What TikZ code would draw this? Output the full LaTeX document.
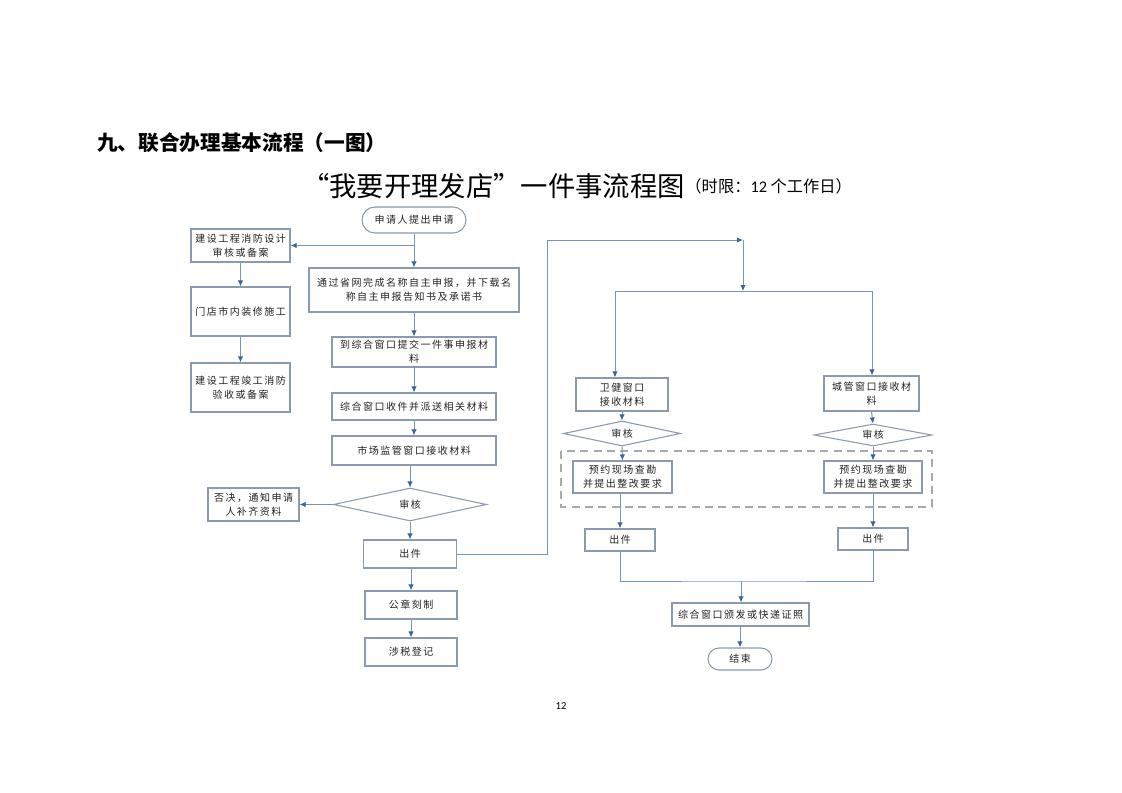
\documentclass[tikz,border=0pt]{standalone}
\usepackage{fontspec}
\setmainfont{Noto Sans CJK SC}
\newfontfamily\boxfont[LetterSpace=15]{Noto Sans CJK SC}
\newfontfamily\numfont{Carlito}
\usepackage{tikz}
\usetikzlibrary{shapes.geometric}
\usetikzlibrary{arrows.meta}

\definecolor{boxc}{RGB}{140,155,172}
\definecolor{linec}{RGB}{120,150,185}
\definecolor{tipc}{RGB}{60,100,150}
\definecolor{txtc}{RGB}{35,35,35}
\definecolor{dashc}{RGB}{165,170,175}

\begin{document}
\begin{tikzpicture}[x=0.75pt, y=-0.75pt,
        wh/.style 2 args={minimum width=#1*0.75pt, minimum height=#2*0.75pt},
        box/.style={rectangle, draw=boxc, line width=0.8pt, fill=white, inner sep=0pt, align=center, text=txtc, font=\boxfont\fontsize{7.5pt}{10.5pt}\selectfont},
        term/.style={box, rounded corners=#1},
        check/.style={box, diamond, shape aspect=3},
        line/.style={draw=linec, line width=0.75pt},
        arr/.style={line, -{Latex[length=4.5pt, width=4pt, color=tipc]}}]
        \useasboundingbox (0, 0) rectangle (1122, 793);

        % titles
        \node[anchor=west, inner sep=0pt, font=\bfseries\fontsize{15.5pt}{18pt}\selectfont] (title) at (97, 143) {九、联合办理基本流程（一图）};
        \node[anchor=west, inner sep=0pt, font=\fontsize{20.5pt}{23pt}\selectfont] (subtitle) at (302, 186) {“我要开理发店”一件事流程图};
        \node[anchor=west, inner sep=0pt, font=\fontsize{12.2pt}{14pt}\selectfont] (limit) at (subtitle.east) {（时限：{\numfont 12} 个工作日）};

        % main column
        \node[term=9.75pt, wh={104}{26}] (start) at (414, 220) {申请人提出申请};
        \node[box, wh={210}{44}] (apply) at (414, 290) {通过省网完成名称自主申报，并下载名\\称自主申报告知书及承诺书};
        \node[box, wh={164}{30}] (submit) at (414, 352) {到综合窗口提交一件事申报材\\料};
        \node[box, wh={164}{27}] (dispatch) at (414, 406.5) {综合窗口收件并派送相关材料};
        \node[box, wh={164}{29}] (market) at (414, 450.5) {市场监管窗口接收材料};
        \node[check, wh={153}{33}] (review) at (410, 504.5) {审核};
        \node[box, wh={93}{28}] (issue) at (410, 554) {出件};
        \node[box, wh={92}{28}] (seal) at (411, 605) {公章刻制};
        \node[box, wh={92}{28}] (tax) at (411, 652) {涉税登记};

        % fire column
        \node[box, wh={99}{33}] (fire1) at (240.5, 245.5) {建设工程消防设计\\审核或备案};
        \node[box, wh={99}{49}] (fire2) at (240.5, 311.5) {门店市内装修施工};
        \node[box, wh={99}{49}] (fire3) at (240.5, 387.5) {建设工程竣工消防\\验收或备案};
        \node[box, wh={91}{33}] (reject) at (253.5, 504.5) {否决，通知申请\\人补齐资料};

        % right columns
        \draw[dashc, line width=1.1pt, dash pattern=on 6pt off 4pt] (561, 451) rectangle (932, 507);
        \node[box, wh={92}{33}] (health) at (622, 394.5) {卫健窗口\\接收材料};
        \node[box, wh={95}{35}] (city) at (871.5, 393.5) {城管窗口接收材\\料};
        \node[check, wh={117}{25}] (reviewL) at (622, 433.5) {审核};
        \node[check, wh={118}{22}] (reviewR) at (873, 435) {审核};
        \node[box, wh={99}{32}] (surveyL) at (622.5, 477) {预约现场查勘\\并提出整改要求};
        \node[box, wh={98}{32}] (surveyR) at (873, 477) {预约现场查勘\\并提出整改要求};
        \node[box, wh={70}{22}] (issueL) at (620, 540) {出件};
        \node[box, wh={70}{22}] (issueR) at (873, 539) {出件};
        \node[box, wh={137}{23}] (certif) at (740.5, 614.5) {综合窗口颁发或快递证照};
        \node[term=8.25pt, wh={64}{22}] (finish) at (740, 659) {结束};

        \node[font=\numfont\fontsize{8pt}{10pt}\selectfont] (page) at (561, 706) {12};

        \coordinate (up) at (547, 240);
        \coordinate (join) at (743, 240);
        \coordinate (split) at (743, 291);
        \coordinate (hl) at (615, 291);
        \coordinate (hr) at (872, 291);
        \coordinate (merge) at (741, 581);

        % connectors
        \foreach \a/\b in {start/apply, apply/submit, submit/dispatch, dispatch/market, review/issue, fire1/fire2, fire2/fire3, health/reviewL, reviewL/surveyL, city/reviewR, reviewR/surveyR}
            \draw[arr] (\a.south) -- (\b.north);
        \draw[arr] (market.south -| review.north) -- (review.north);
        \draw[arr] (issue.south -| seal.north) -- (seal.north);
        \draw[arr] (seal.south) -- (tax.north);
        \draw[arr] (surveyL.south -| issueL.north) -- (issueL.north);
        \draw[arr] (surveyR.south) -- (issueR.north);
        \draw[arr] (start.south |- fire1.east) -- (fire1.east);
        \draw[arr] (review.west) -- (reject.east);
        \draw[arr] (issue.east) -- (up |- issue.east) -- (up) -- (join);
        \draw[arr] (join) -- (split);
        \draw[line] (hl) -- (hr);
        \draw[arr] (hl) -- (hl |- health.north);
        \draw[arr] (hr) -- (hr |- city.north);
        \draw[line] (issueL.south) |- (merge) -| (issueR.south);
        \draw[arr] (merge) -- (merge |- certif.north);
        \draw[arr] (certif.south -| finish.north) -- (finish.north);
    \end{tikzpicture}
\end{document}
